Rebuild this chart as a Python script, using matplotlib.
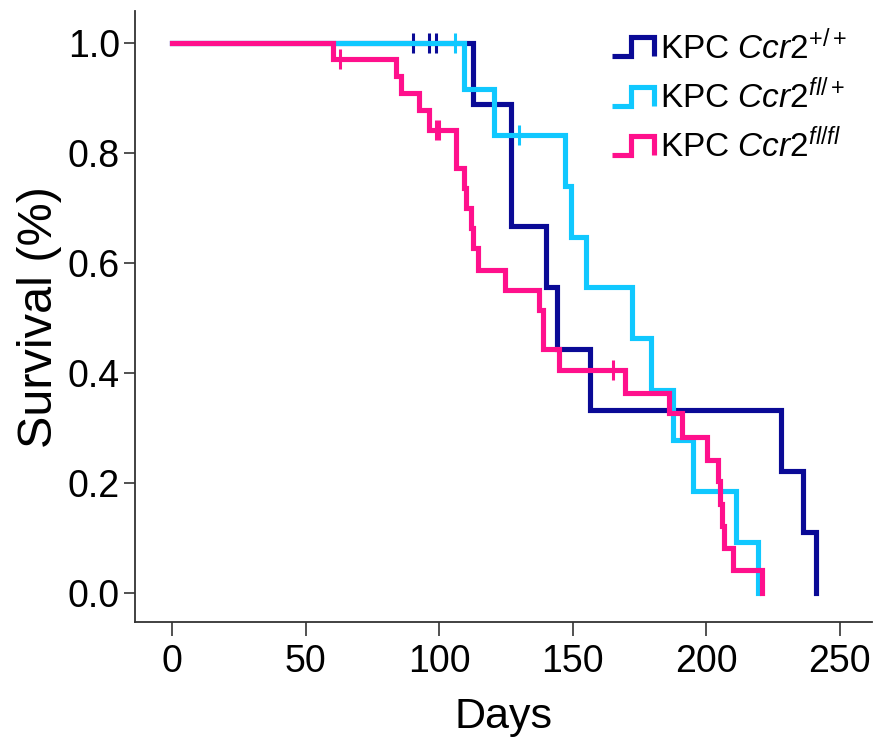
import numpy as np
import matplotlib
matplotlib.use("Agg")
import matplotlib.pyplot as plt
from matplotlib.lines import Line2D
from matplotlib.legend_handler import HandlerBase

# ---------------- data ----------------
wt_times = [0, 112.5, 126.9, 140.0, 144.1, 156.3, 228.0, 236.1, 241.0]
wt_surv = [1.0, 0.889, 0.667, 0.556, 0.444, 0.333, 0.222, 0.111, 0.0]
wt_cens = [90.0, 96.0, 98.7]

het_times = [0, 109.1, 120.6, 147.0, 149.4, 155.0, 172.2, 179.2, 187.4, 195.1, 211.3, 219.2]
het_surv = [1.0, 0.917, 0.833, 0.741, 0.648, 0.556, 0.463, 0.370, 0.278, 0.185, 0.093, 0.0]
het_cens = [106.0, 130.0]

ko_times = [0, 60.1, 83.7, 85.6, 92.5, 96.2, 106.2, 109.4, 110.0, 111.9, 112.5, 114.4,
            124.7, 137.5, 138.8, 145.0, 169.4, 186.0, 190.9, 200.1, 204.2, 205.3,
            205.8, 206.6, 210.1, 221.0]
ko_surv = [1.0, 0.971, 0.941, 0.910, 0.878, 0.843, 0.774, 0.737, 0.701, 0.664, 0.628, 0.588,
           0.552, 0.515, 0.443, 0.406, 0.364, 0.327, 0.283, 0.242, 0.203, 0.162,
           0.121, 0.081, 0.041, 0.0]
ko_cens = [62.8, 98.7, 100.0, 165.0]

labels = [r'KPC $\mathit{Ccr2}^{+/+}$',
          r'KPC $\mathit{Ccr2}^{\mathit{fl/+}}$',
          r'KPC $\mathit{Ccr2}^{\mathit{fl/fl}}$']
colors = ['#0a0a96', '#10c8ff', '#ff108c']
x_ticks = [0, 50, 100, 150, 200, 250]
y_ticks = [0.0, 0.2, 0.4, 0.6, 0.8, 1.0]

# ---------------- fonts ----------------
plt.rcParams['font.family'] = ['Liberation Sans', 'DejaVu Sans']
plt.rcParams['mathtext.fontset'] = 'custom'
plt.rcParams['mathtext.rm'] = 'Liberation Sans'
plt.rcParams['mathtext.it'] = 'Liberation Sans:italic'
plt.rcParams['mathtext.sf'] = 'Liberation Sans'


class StepHandler(HandlerBase):
    def create_artists(self, legend, orig_handle, xdescent, ydescent,
                       width, height, fontsize, trans):
        x0, y0 = -xdescent, -ydescent
        lo, hi = y0, y0 + height
        xm = x0 + 0.45 * width
        xs = [x0, xm, xm, x0 + width, x0 + width]
        ys = [lo, lo, hi, hi, lo]
        ln = Line2D(xs, ys, color=orig_handle.get_color(),
                    lw=orig_handle.get_linewidth(), solid_joinstyle='miter',
                    solid_capstyle='butt')
        ln.set_transform(trans)
        return [ln]


fig = plt.figure(figsize=(8.74, 7.40), dpi=100)
ax = fig.add_axes([0.1545, 0.1595, 0.843, 0.825])

groups = [(wt_times, wt_surv, wt_cens), (het_times, het_surv, het_cens),
          (ko_times, ko_surv, ko_cens)]
handles = []
for (t, s, c), col, lab in zip(groups, colors, labels):
    t = np.asarray(t, float)
    s = np.asarray(s, float)
    h, = ax.step(t, s, where='post', color=col, lw=3.7, label=lab,
                 solid_joinstyle='miter')
    idx = np.searchsorted(t, np.asarray(c), side='right') - 1
    ax.plot(c, s[idx], linestyle='none', marker='|', markersize=14,
            markeredgewidth=2.2, color=col)
    handles.append(h)

ax.set_xlim(-14, 262)
ax.set_ylim(-0.053, 1.058)
ax.set_xticks(x_ticks)
ax.set_yticks(y_ticks)
ax.set_yticklabels([f'{v:.1f}' for v in y_ticks])
ax.set_xticklabels([str(v) for v in x_ticks])
ax.tick_params(axis='y', labelsize=27, length=8, width=1.2, color='#333333', pad=3)
ax.tick_params(axis='x', labelsize=27, length=10, width=1.2, color='#333333', pad=6)
for sp in ['top', 'right']:
    ax.spines[sp].set_visible(False)
for sp in ['left', 'bottom']:
    ax.spines[sp].set_linewidth(1.3)
    ax.spines[sp].set_color('#333333')

ax.set_xlabel('Days', fontsize=31, labelpad=12)
ax.set_ylabel('Survival (%)', fontsize=35, labelpad=4)

leg = fig.legend(handles=handles, labels=labels, loc='upper left',
                 bbox_to_anchor=(612 / 874, 1 - 30 / 740), frameon=False,
                 fontsize=24, handler_map={Line2D: StepHandler()},
                 handlelength=1.25, handleheight=0.5, handletextpad=0.2,
                 labelspacing=0.4, borderaxespad=0.0, borderpad=0.0)

fig.savefig('out.png', dpi=100)
